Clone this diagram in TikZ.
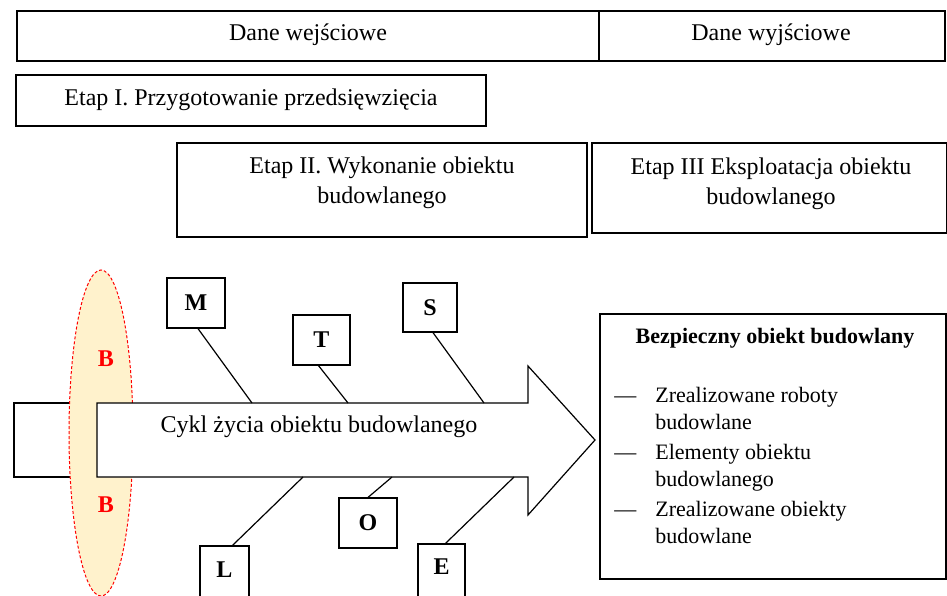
\documentclass[tikz,border=0pt]{standalone}
\usepackage{fontspec}
\setmainfont{Liberation Serif}
\usetikzlibrary{calc}
\definecolor{ellfill}{HTML}{FFF2CC}
\definecolor{bred}{HTML}{FF0000}
\tikzset{
  box/.style={draw=black, line width=0.6pt, fill=white, inner sep=0pt, rectangle},
  txt/.style={inner sep=0pt, align=center, font=\fontsize{12}{15}\selectfont},
  letter/.style={inner sep=0pt, font=\fontsize{12}{15}\selectfont\bfseries},
  bone/.style={draw=black, line width=0.6pt},
}
\begin{document}
\begin{tikzpicture}[x=0.5pt,y=-0.5pt]
\path[use as bounding box] (0,0) rectangle (947,595);
\begin{scope}
\clip (0,0) rectangle (947,595);
% top row
\node[box, line width=0.7pt, minimum width=291pt, minimum height=25pt] (dw) at (308,36) {};
\node[txt] (dwt) at (308,35) {Dane wejściowe};
\node[box, line width=0.7pt, minimum width=173pt, minimum height=25pt] (dy) at (772,36) {};
\node[txt] (dyt) at (771,35) {Dane wyjściowe};
% stages
\node[box, minimum width=235pt, minimum height=25.5pt] (e1) at (251,100.5) {};
\node[txt] (e1t) at (251,100) {Etap I. Przygotowanie przedsięwzięcia};
\node[box, minimum width=205pt, minimum height=47pt] (e2) at (382,190) {};
\node[txt] (e2t) at (382,183) {Etap II. Wykonanie obiektu\\budowlanego};
\node[box, minimum width=177.5pt, minimum height=45pt] (e3) at (769.5,188) {};
\node[txt] (e3t) at (771,183.5) {Etap III Eksploatacja obiektu\\budowlanego};
% left rectangle behind
\draw[line width=0.6pt, fill=white] (14,403) rectangle (130,477);
% ellipse
\draw[bred, dash pattern=on 1.5pt off 1pt, fill=ellfill, line width=0.5pt] (101,433) ellipse [x radius=16pt, y radius=81.5pt];
\node[letter, text=bred] (B1) at (106,359) {B};
\node[letter, text=bred] (B2) at (106,505) {B};
% arrow
\draw[line width=0.6pt, fill=white] (97,403) -- (528,403) -- (528,366) -- (595,440) -- (528,515) -- (528,477) -- (97,477) -- cycle;
\node[txt] (cykl) at (319,427) {Cykl życia obiektu budowlanego};
\coordinate (bM) at (252,403);
\coordinate (bT) at (348,403);
\coordinate (bS) at (484,403);
\coordinate (bL) at (303,477);
\coordinate (bO) at (392,477);
\coordinate (bE) at (514,477);
% factor boxes
\node[box, letter, minimum width=29pt, minimum height=25pt] (M) at (196,303) {M};
\node[box, letter, minimum width=28.5pt, minimum height=25pt] (T) at (321.5,340) {T};
\node[box, letter, minimum width=27pt, minimum height=24.5pt] (S) at (430,307.5) {S};
\node[box, letter, minimum width=29pt, minimum height=25pt] (O) at (368,523) {O};
\node[box, minimum width=24.5pt, minimum height=32pt] (L) at (224.5,578) {};
\node[letter] (Lt) at (224.5,570) {L};
\node[box, minimum width=23.5pt, minimum height=33pt] (E) at (441.5,577) {};
\node[letter] (Et) at (441.5,567) {E};
\draw[bone] ([xshift=1pt]M.south) -- (bM);
\draw[bone] ([xshift=-1.5pt]T.south) -- (bT);
\draw[bone] ([xshift=1.5pt]S.south) -- (bS);
\draw[bone] ([xshift=4pt]L.north) -- (bL);
\draw[bone] (O.north) -- (bO);
\draw[bone] ([xshift=2pt]E.north) -- (bE);
% result box
\node[box, minimum width=173pt, minimum height=132.5pt] (res) at (773,446.5) {};
\node[inner sep=0pt, font=\fontsize{11}{13.5}\selectfont\bfseries] (rest) at (775,338) {Bezpieczny obiekt budowlany};
\node[txt, anchor=north west, align=left, font=\fontsize{11}{13.5}\selectfont] (lista) at (614,383)
{\renewcommand\arraystretch{1}\begin{tabular}{@{}l@{\hspace{9.5pt}}l@{}}
—& Zrealizowane roboty\\
 & budowlane\\[1.5pt]
—& Elementy obiektu\\
 & budowlanego\\[1.5pt]
—& Zrealizowane obiekty\\
 & budowlane
\end{tabular}};
\end{scope}
\end{tikzpicture}
\end{document}
